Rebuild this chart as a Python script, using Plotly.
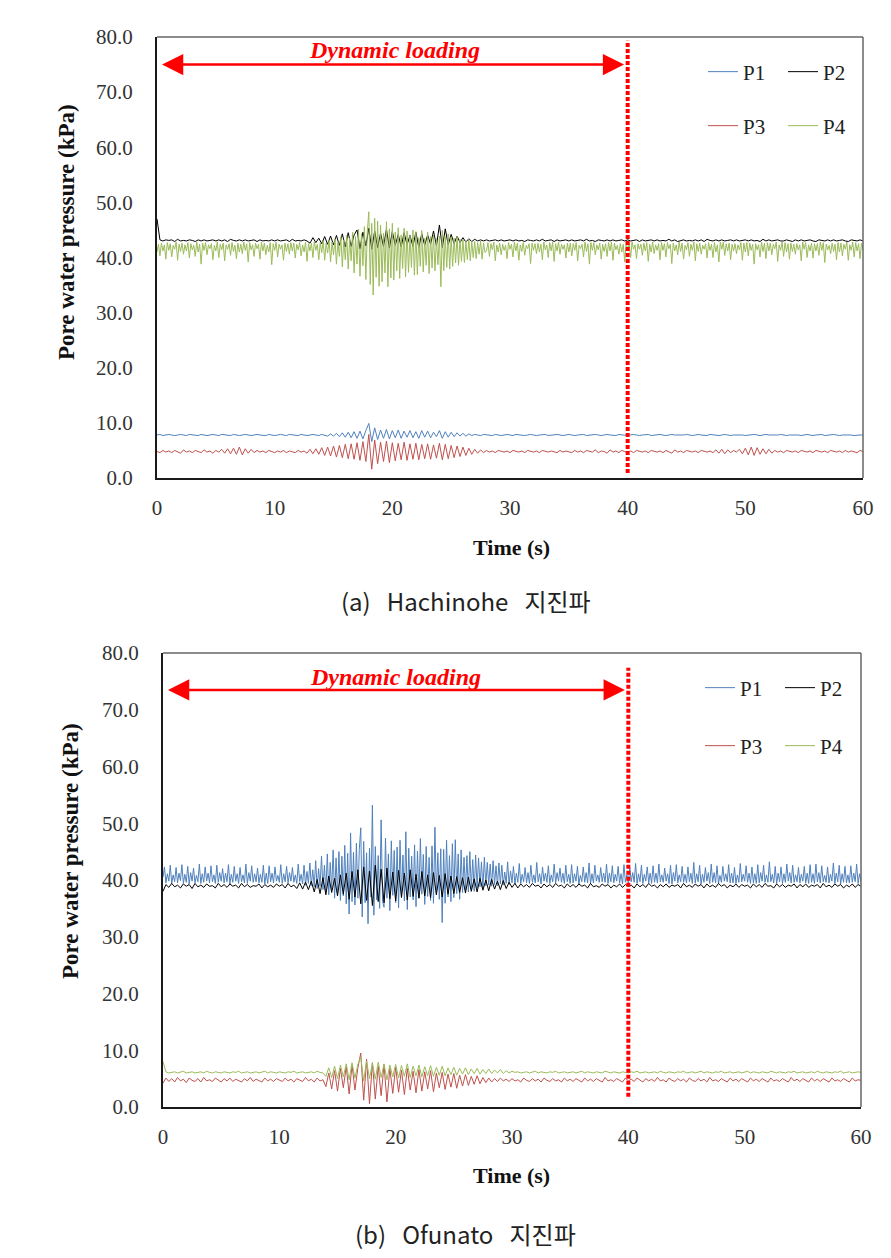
import plotly.graph_objects as go

# ---------------- data ----------------
# coarse grid (0.25 s) and fine grid (0.125 s) sample times
COARSE_STEP = 0.25
FINE_STEP = 0.125
time_coarse = [round(i * COARSE_STEP, 3) for i in range(241)]
time_fine = [round(i * FINE_STEP, 3) for i in range(481)]

# (a) Hachinohe
a_P1 = [
    7.8, 7.9, 7.7, 7.8, 7.9, 7.8, 7.7, 7.8, 7.9, 7.8, 7.7, 7.9, 7.8, 7.8, 7.7, 7.9, 7.8, 7.7, 7.8, 7.9,
    7.8, 7.7, 7.9, 7.8, 7.8, 7.7, 7.9, 7.8, 7.7, 7.8, 7.9, 7.8, 7.7, 7.8, 7.9, 7.8, 7.8, 7.7, 7.9, 7.8,
    7.7, 7.8, 7.9, 7.8, 7.7, 7.9, 7.8, 7.8, 7.7, 7.9, 7.8, 7.7, 7.8, 7.9, 7.8, 7.7, 7.9, 7.8, 7.6, 8.0,
    7.6, 8.1, 7.5, 8.2, 7.4, 8.3, 7.3, 8.4, 7.2, 8.5, 7.1, 8.6, 9.9, 6.6, 9.1, 7.0, 8.7, 7.2, 8.8, 7.1,
    8.6, 7.3, 8.7, 7.2, 8.5, 7.4, 8.6, 7.3, 8.4, 7.2, 8.6, 7.4, 8.5, 7.3, 8.3, 7.5, 8.6, 7.2, 8.4, 7.4,
    8.3, 7.5, 8.2, 7.6, 8.1, 7.6, 8.0, 7.7, 7.9, 7.8, 7.7, 7.9, 7.8, 7.8, 7.7, 7.9, 7.8, 7.7, 7.8, 7.9,
    7.8, 7.7, 7.9, 7.8, 7.8, 7.7, 7.8, 7.9, 7.8, 7.7, 7.8, 7.8, 7.9, 7.7, 7.8, 7.8, 7.9, 7.8, 7.7, 7.8,
    7.9, 7.8, 7.7, 7.8, 7.8, 7.9, 7.7, 7.8, 7.8, 7.9, 7.8, 7.7, 7.8, 7.9, 7.8, 7.8, 7.7, 7.9, 7.8, 7.8,
    7.7, 7.8, 7.9, 7.8, 7.7, 7.8, 7.8, 7.9, 7.7, 7.8, 7.8, 7.9, 7.8, 7.7, 7.8, 7.9, 7.8, 7.8, 7.7, 7.8,
    7.9, 7.8, 7.7, 7.8, 7.9, 7.8, 7.8, 7.7, 7.9, 7.8, 7.8, 7.7, 7.8, 7.9, 7.8, 7.7, 7.8, 7.8, 7.9, 7.8,
    7.7, 7.8, 7.8, 7.9, 7.8, 7.7, 7.8, 7.9, 7.8, 7.8, 7.7, 7.8, 7.9, 7.8, 7.7, 7.8, 7.8, 7.9, 7.8, 7.7,
    7.8, 7.9, 7.8, 7.7, 7.8, 7.8, 7.9, 7.7, 7.8, 7.8, 7.9, 7.8, 7.7, 7.8, 7.8, 7.9, 7.8, 7.7, 7.8, 7.8,
    7.8,
]
a_P2 = [
    47.0, 43.2, 43.0, 43.2, 43.1, 43.2, 42.9, 43.3, 43.0, 43.1, 43.0, 43.2, 43.1, 42.9, 43.2, 43.0, 43.2, 43.0, 43.1, 43.2,
    43.0, 43.2, 43.0, 43.2, 42.9, 43.3, 43.1, 43.0, 43.2, 43.0, 43.2, 43.0, 43.1, 43.2, 42.9, 43.2, 43.0, 43.1, 43.0, 43.2,
    43.0, 43.2, 43.0, 43.1, 43.2, 42.9, 43.3, 43.0, 43.1, 43.0, 43.2, 43.0, 42.6, 43.6, 42.7, 43.5, 42.5, 43.8, 42.4, 43.9,
    42.3, 44.0, 42.2, 44.3, 41.9, 44.5, 42.0, 44.1, 45.0, 41.6, 44.6, 42.1, 45.3, 41.5, 44.8, 41.8, 44.4, 42.0, 45.1, 41.7,
    44.7, 42.2, 44.2, 41.9, 44.5, 42.3, 44.0, 42.0, 44.6, 41.8, 44.3, 42.2, 44.1, 42.4, 44.8, 42.1, 45.9, 41.8, 45.2, 42.3,
    44.2, 42.5, 43.9, 42.7, 43.6, 42.8, 43.4, 42.9, 43.3, 43.0, 43.2, 43.0, 43.2, 43.0, 43.1, 43.2, 43.0, 43.2, 43.0, 43.1,
    43.2, 43.0, 43.2, 43.0, 43.1, 42.9, 43.2, 43.1, 43.0, 43.2, 43.0, 43.3, 43.0, 43.1, 43.2, 42.9, 43.2, 43.0, 43.1, 43.2,
    43.0, 43.2, 43.0, 43.1, 43.2, 43.0, 43.3, 43.0, 43.1, 42.9, 43.2, 43.1, 43.0, 43.2, 43.0, 43.2, 43.0, 43.1, 43.2, 43.0,
    43.2, 43.0, 43.1, 43.2, 42.9, 43.2, 43.0, 43.1, 43.2, 43.0, 43.2, 43.0, 43.1, 43.0, 43.3, 43.0, 43.2, 42.9, 43.1, 43.2,
    43.0, 43.1, 43.0, 43.2, 43.0, 43.2, 42.9, 43.3, 43.1, 43.0, 43.2, 43.0, 43.2, 43.0, 43.1, 43.2, 43.0, 43.2, 43.0, 43.1,
    43.2, 43.0, 43.2, 43.0, 43.1, 42.9, 43.3, 43.0, 43.2, 43.0, 43.1, 43.2, 43.0, 43.0, 43.2, 43.1, 42.9, 43.2, 43.0, 43.2,
    43.0, 43.1, 43.2, 43.0, 42.9, 43.2, 43.1, 43.0, 43.2, 43.0, 43.2, 43.0, 43.1, 43.2, 43.0, 42.9, 43.2, 43.1, 43.0, 43.2,
    43.0,
]
a_P3 = [
    4.8, 4.6, 5.0, 4.7, 4.9, 4.6, 5.0, 4.8, 4.5, 5.1, 4.7, 4.9, 4.6, 5.0, 4.8, 4.6, 5.1, 4.7, 4.9, 4.5,
    5.0, 4.7, 5.2, 4.5, 5.3, 4.4, 5.4, 4.3, 5.6, 4.2, 5.3, 4.5, 5.2, 4.6, 5.0, 4.7, 4.9, 4.6, 5.0, 4.8,
    4.6, 4.9, 4.7, 5.0, 4.6, 4.9, 4.8, 4.6, 5.0, 4.7, 4.9, 4.5, 5.2, 4.4, 5.3, 4.3, 5.5, 4.1, 5.6, 4.0,
    5.8, 3.8, 5.9, 3.7, 6.1, 3.5, 6.2, 3.4, 6.4, 3.2, 6.6, 3.0, 7.9, 1.6, 6.9, 2.6, 6.5, 3.0, 6.7, 2.8,
    6.4, 3.1, 6.3, 3.3, 6.5, 3.2, 6.2, 3.4, 6.3, 3.3, 6.1, 3.5, 6.2, 3.4, 6.0, 3.6, 6.3, 3.3, 6.1, 3.5,
    5.9, 3.7, 5.8, 3.9, 5.6, 4.1, 5.4, 4.3, 5.2, 4.5, 5.1, 4.6, 5.0, 4.7, 4.9, 4.6, 5.0, 4.8, 4.7, 4.9,
    4.6, 5.0, 4.8, 4.7, 4.9, 4.6, 5.0, 4.8, 4.7, 4.9, 4.6, 5.0, 4.8, 4.7, 4.9, 4.8, 4.6, 5.0, 4.7, 4.9,
    4.8, 4.6, 5.0, 4.7, 4.9, 4.6, 5.0, 4.8, 4.7, 5.1, 4.6, 4.9, 4.8, 4.5, 5.1, 4.7, 4.9, 4.6, 5.0, 4.8,
    4.7, 4.9, 4.6, 5.0, 4.8, 4.7, 4.9, 4.6, 5.0, 4.8, 4.7, 4.9, 4.6, 5.0, 4.8, 4.5, 5.1, 4.7, 4.9, 4.6,
    5.0, 4.8, 4.7, 4.9, 4.6, 5.0, 4.8, 4.7, 4.9, 4.6, 5.1, 4.5, 5.2, 4.4, 5.1, 4.6, 5.0, 4.7, 5.2, 4.4,
    5.4, 4.2, 5.6, 4.1, 5.5, 4.3, 5.3, 4.4, 5.2, 4.5, 5.0, 4.7, 4.9, 4.6, 5.0, 4.8, 4.7, 4.9, 4.6, 5.0,
    4.8, 4.7, 4.9, 4.6, 5.0, 4.8, 4.7, 4.9, 4.6, 5.0, 4.8, 4.7, 4.9, 4.6, 5.0, 4.7, 4.9, 4.8, 4.6, 5.0,
    4.8,
]
# fine grid, one line per second
a_P4 = [
    41.0, 42.4, 40.3, 42.6, 41.2, 42.3, 39.7, 42.7,
    41.3, 42.5, 40.1, 42.2, 41.5, 42.8, 39.5, 42.4,
    41.1, 42.6, 40.6, 42.3, 41.2, 42.7, 39.9, 42.5,
    41.4, 42.2, 40.2, 42.8, 41.0, 42.4, 38.8, 42.6,
    41.3, 42.7, 40.5, 42.3, 41.6, 42.5, 39.6, 42.2,
    41.2, 42.8, 40.0, 42.4, 41.4, 42.6, 39.4, 42.3,
    41.5, 42.5, 40.4, 42.7, 41.1, 42.2, 39.8, 42.6,
    41.0, 42.4, 40.7, 42.8, 41.3, 42.5, 39.2, 42.7,
    41.4, 42.3, 40.2, 42.6, 41.6, 42.4, 39.7, 42.8,
    41.2, 42.6, 40.5, 42.2, 41.0, 42.7, 38.7, 42.5,
    41.3, 42.8, 40.1, 42.4, 41.5, 42.3, 39.5, 42.6,
    41.1, 42.5, 40.6, 42.7, 41.2, 42.6, 39.9, 42.4,
    41.4, 42.7, 40.3, 42.3, 41.0, 42.8, 39.3, 42.5,
    41.2, 42.6, 40.0, 42.9, 41.3, 42.4, 39.6, 42.7,
    40.9, 43.0, 39.5, 42.6, 40.8, 43.1, 39.2, 42.8,
    40.5, 43.4, 38.8, 42.9, 40.2, 43.8, 38.3, 43.2,
    39.6, 44.0, 37.9, 43.5, 39.4, 44.6, 37.2, 43.8,
    38.8, 45.1, 36.6, 44.3, 38.5, 45.6, 36.0, 44.8,
    48.3, 35.1, 46.2, 33.2, 47.1, 36.4, 46.6, 34.8,
    45.9, 35.6, 44.4, 37.2, 46.5, 34.7, 45.2, 36.3,
    46.2, 35.9, 44.6, 37.6, 45.4, 36.2, 44.1, 38.0,
    45.3, 36.5, 44.8, 37.3, 43.9, 38.2, 45.0, 36.8,
    44.7, 36.9, 43.6, 38.4, 44.9, 37.4, 43.5, 38.6,
    44.6, 37.1, 43.8, 38.1, 44.2, 37.6, 43.4, 38.7,
    43.9, 34.7, 44.9, 37.6, 43.8, 38.2, 44.3, 37.9,
    43.7, 38.4, 43.5, 39.0, 43.9, 38.6, 43.3, 39.3,
    43.2, 39.1, 43.0, 39.6, 43.3, 39.4, 42.9, 40.0,
    42.9, 39.8, 42.7, 40.6, 43.0, 39.7, 42.6, 40.9,
    41.2, 42.7, 40.2, 42.5, 41.4, 42.8, 39.4, 42.3,
    41.0, 42.6, 40.5, 42.4, 41.3, 42.2, 39.8, 42.7,
    41.5, 42.4, 40.1, 42.8, 41.2, 42.6, 39.5, 42.3,
    41.1, 42.7, 40.4, 42.2, 41.6, 42.5, 38.9, 42.6,
    41.3, 42.5, 40.7, 42.6, 41.0, 42.4, 39.6, 42.8,
    41.4, 42.3, 40.0, 42.7, 41.2, 42.8, 39.3, 42.5,
    41.2, 42.8, 40.6, 42.4, 41.5, 42.3, 39.9, 42.6,
    41.0, 42.6, 40.3, 42.5, 41.3, 42.7, 39.4, 42.2,
    41.6, 42.4, 40.1, 42.8, 41.1, 42.5, 38.8, 42.7,
    41.3, 42.7, 40.5, 42.3, 41.4, 42.6, 39.7, 42.4,
    41.1, 42.5, 40.2, 42.7, 41.2, 42.8, 39.5, 42.6,
    41.4, 42.2, 40.6, 42.5, 41.0, 42.4, 39.2, 42.8,
    41.2, 42.6, 40.0, 42.8, 41.5, 42.3, 39.8, 42.5,
    41.5, 42.4, 40.4, 42.6, 41.2, 42.7, 39.3, 42.4,
    41.0, 42.8, 40.7, 42.3, 41.3, 42.5, 39.6, 42.7,
    41.3, 42.5, 40.1, 42.7, 41.6, 42.4, 38.9, 42.6,
    41.2, 42.3, 40.5, 42.8, 41.1, 42.6, 39.7, 42.2,
    41.4, 42.7, 40.2, 42.4, 41.3, 42.8, 39.4, 42.5,
    41.1, 42.6, 40.6, 42.2, 41.5, 42.5, 39.9, 42.7,
    41.3, 42.4, 40.0, 42.7, 41.0, 42.3, 39.2, 42.8,
    41.5, 42.8, 40.4, 42.5, 41.2, 42.6, 39.6, 42.4,
    41.2, 42.5, 40.7, 42.3, 41.4, 42.7, 39.5, 42.6,
    41.0, 42.7, 40.3, 42.6, 41.3, 42.4, 38.8, 42.5,
    41.4, 42.3, 40.1, 42.8, 41.1, 42.6, 39.8, 42.7,
    41.2, 42.6, 40.5, 42.4, 41.6, 42.8, 39.3, 42.3,
    41.3, 42.8, 40.2, 42.7, 41.0, 42.5, 39.7, 42.6,
    41.1, 42.4, 40.6, 42.5, 41.4, 42.3, 39.4, 42.8,
    41.5, 42.7, 40.0, 42.3, 41.2, 42.6, 39.9, 42.5,
    41.2, 42.5, 40.4, 42.8, 41.3, 42.7, 39.1, 42.4,
    41.4, 42.2, 40.7, 42.6, 41.1, 42.4, 39.6, 42.7,
    41.0, 42.6, 40.3, 42.4, 41.5, 42.8, 39.5, 42.3,
    41.3, 42.8, 40.1, 42.7, 41.2, 42.5, 39.8, 42.6,
    41.4,
]

# (b) Ofunato
# fine grid, one line per second
b_P1 = [
    40.5, 42.3, 39.5, 41.1, 39.8, 42.6, 39.4, 40.9,
    39.7, 42.2, 39.5, 41.2, 39.9, 42.7, 39.4, 41.0,
    39.6, 42.4, 39.3, 41.3, 39.8, 42.1, 39.5, 40.8,
    39.7, 42.8, 39.4, 41.1, 39.6, 42.3, 39.8, 41.2,
    39.5, 42.5, 39.7, 40.9, 39.4, 42.6, 39.6, 41.3,
    39.8, 42.0, 39.5, 41.2, 39.7, 42.7, 39.3, 41.0,
    39.6, 42.4, 39.8, 41.1, 39.4, 42.2, 39.7, 40.9,
    39.5, 42.8, 39.4, 41.3, 39.8, 42.5, 39.6, 41.1,
    39.7, 42.1, 39.5, 41.0, 39.6, 42.6, 39.3, 41.2,
    39.4, 42.5, 39.7, 41.2, 39.5, 42.3, 39.8, 40.8,
    39.6, 42.7, 39.4, 41.1, 39.7, 42.4, 39.5, 41.3,
    39.8, 42.2, 39.6, 40.9, 39.4, 42.8, 39.7, 41.0,
    39.3, 42.6, 39.1, 41.5, 39.4, 43.0, 39.0, 41.8,
    38.8, 43.4, 38.5, 42.0, 38.9, 44.2, 38.3, 42.6,
    38.0, 44.6, 37.4, 43.1, 38.2, 45.3, 36.8, 43.9,
    37.5, 45.0, 36.4, 44.2, 37.2, 46.1, 35.8, 44.7,
    34.0, 48.3, 36.2, 44.9, 35.6, 46.5, 36.8, 45.4,
    49.2, 33.5, 46.8, 36.0, 44.8, 32.3, 45.6, 37.0,
    53.2, 33.8, 45.9, 36.5, 44.3, 35.0, 50.6, 36.2,
    35.2, 47.4, 36.8, 44.6, 34.6, 46.9, 37.3, 45.2,
    36.0, 45.8, 35.1, 47.0, 37.2, 44.4, 36.3, 48.5,
    34.8, 45.6, 37.0, 44.2, 36.5, 46.2, 35.3, 45.1,
    36.8, 47.3, 37.5, 44.5, 35.7, 45.9, 37.1, 44.0,
    36.4, 46.0, 35.9, 49.3, 37.4, 44.8, 36.6, 45.5,
    32.5, 45.4, 35.9, 47.0, 37.0, 44.3, 36.2, 46.4,
    36.9, 47.1, 37.6, 44.6, 36.6, 45.3, 37.8, 44.0,
    38.2, 44.3, 37.9, 45.0, 38.4, 43.6, 38.0, 44.4,
    38.6, 43.9, 38.8, 43.2, 38.5, 44.0, 39.0, 43.1,
    39.1, 42.8, 38.9, 43.4, 39.2, 42.5, 39.0, 43.0,
    39.3, 42.6, 39.1, 41.4, 39.4, 43.2, 39.2, 41.6,
    39.5, 42.4, 39.3, 41.2, 39.6, 42.9, 39.4, 41.0,
    39.7, 42.2, 39.5, 41.3, 39.4, 42.6, 39.6, 40.9,
    39.5, 43.1, 39.7, 41.1, 39.3, 42.3, 39.8, 41.2,
    39.6, 42.5, 39.4, 40.9, 39.7, 42.8, 39.5, 41.3,
    39.8, 42.1, 39.6, 41.2, 39.4, 42.6, 39.7, 41.0,
    39.4, 42.7, 39.5, 41.1, 39.8, 42.4, 39.3, 40.8,
    39.7, 42.3, 39.6, 41.3, 39.5, 43.0, 39.4, 41.1,
    39.5, 42.6, 39.8, 40.9, 39.6, 42.2, 39.7, 41.2,
    39.6, 42.8, 39.4, 41.2, 39.7, 42.5, 39.5, 41.0,
    39.8, 42.4, 39.5, 41.1, 39.3, 42.7, 39.6, 40.9,
    39.5, 42.2, 39.7, 41.3, 39.6, 42.9, 39.4, 41.1,
    39.7, 42.6, 39.4, 41.0, 39.8, 42.3, 39.5, 41.2,
    39.4, 42.5, 39.6, 41.2, 39.5, 42.8, 39.7, 40.9,
    39.6, 42.1, 39.8, 41.1, 39.4, 42.6, 39.3, 41.3,
    39.8, 42.7, 39.5, 40.9, 39.7, 42.4, 39.6, 41.0,
    39.5, 42.3, 39.7, 41.2, 39.4, 43.1, 39.5, 41.1,
    39.7, 42.6, 39.3, 41.0, 39.6, 42.2, 39.8, 41.3,
    39.4, 42.8, 39.6, 41.3, 39.5, 42.5, 39.4, 40.8,
    39.6, 42.4, 39.8, 41.1, 39.7, 42.7, 39.5, 41.2,
    39.5, 42.2, 39.4, 40.9, 39.6, 42.9, 39.7, 41.0,
    39.8, 42.5, 39.6, 41.2, 39.4, 42.3, 39.5, 41.1,
    39.4, 42.7, 39.5, 41.3, 39.8, 42.6, 39.6, 40.9,
    39.6, 43.2, 39.7, 41.0, 39.5, 42.4, 39.4, 41.2,
    39.7, 42.3, 39.4, 41.1, 39.6, 42.8, 39.8, 41.3,
    39.5, 42.6, 39.6, 40.9, 39.7, 42.2, 39.5, 41.0,
    39.8, 42.4, 39.5, 41.2, 39.4, 42.7, 39.6, 41.1,
    39.4, 42.8, 39.7, 41.3, 39.5, 42.5, 39.7, 40.8,
    39.6, 42.3, 39.5, 41.0, 39.8, 43.0, 39.4, 41.2,
    39.7, 42.6, 39.3, 41.1, 39.6, 42.4, 39.5, 40.9,
    39.5, 42.5, 39.6, 41.2, 39.7, 42.8, 39.4, 41.1,
    39.6,
]
b_P2 = [
    38.0, 39.2, 38.7, 39.4, 38.8, 39.1, 38.6, 39.3, 38.9, 39.2, 38.5, 39.4, 38.8, 39.1, 38.7, 39.3, 38.9, 39.0, 38.6, 39.4,
    38.8, 39.2, 38.7, 39.3, 38.9, 39.1, 38.6, 39.4, 38.8, 39.2, 38.7, 39.0, 38.9, 39.3, 38.6, 39.2, 38.8, 39.1, 38.7, 39.3,
    38.9, 39.2, 38.6, 39.4, 38.8, 39.1, 38.5, 39.5, 38.4, 39.6, 38.3, 39.8, 37.9, 40.1, 37.6, 40.4, 37.4, 40.7, 37.8, 40.3,
    37.2, 40.9, 37.5, 41.2, 36.6, 41.5, 37.0, 41.8, 35.8, 42.3, 36.4, 41.6, 35.5, 42.6, 36.2, 41.9, 36.0, 42.1, 36.7, 41.4,
    36.3, 41.7, 36.9, 41.2, 36.5, 41.8, 37.1, 41.0, 36.8, 41.5, 37.2, 40.9, 36.9, 41.3, 37.4, 40.8, 37.0, 41.1, 37.5, 40.7,
    37.6, 40.6, 37.8, 40.4, 37.7, 40.5, 38.0, 40.2, 37.9, 40.3, 38.2, 40.0, 38.1, 40.1, 38.4, 39.8, 38.3, 39.9, 38.5, 39.6,
    38.7, 39.4, 38.6, 39.3, 38.8, 39.2, 38.7, 39.4, 38.9, 39.1, 38.6, 39.3, 38.8, 39.2, 38.7, 39.4, 38.9, 39.1, 38.6, 39.3,
    38.8, 39.2, 38.7, 39.3, 38.9, 39.1, 38.6, 39.4, 38.8, 39.0, 38.7, 39.3, 38.9, 39.2, 38.6, 39.1, 38.8, 39.3, 38.7, 39.2,
    38.9, 39.1, 38.6, 39.3, 38.8, 39.2, 38.7, 39.4, 38.9, 39.1, 38.6, 39.2, 38.8, 39.3, 38.7, 39.1, 38.9, 39.2, 38.6, 39.4,
    38.8, 39.1, 38.7, 39.3, 38.9, 39.2, 38.6, 39.3, 38.8, 39.1, 38.7, 39.4, 38.9, 39.2, 38.6, 39.1, 38.8, 39.3, 38.7, 39.2,
    38.9, 39.1, 38.6, 39.3, 38.8, 39.2, 38.7, 39.4, 38.9, 39.0, 38.6, 39.3, 38.8, 39.2, 38.7, 39.1, 38.9, 39.3, 38.6, 39.2,
    38.8, 39.3, 38.7, 39.1, 38.9, 39.2, 38.6, 39.4, 38.8, 39.1, 38.7, 39.3, 38.9, 39.2, 38.6, 39.1, 38.8, 39.3, 38.7, 39.2,
    38.9,
]
b_P3 = [
    4.2, 5.1, 4.5, 5.0, 4.4, 5.2, 4.6, 4.9, 4.3, 5.1, 4.7, 4.5, 5.0, 4.4, 5.2, 4.6, 4.8, 4.5, 5.1, 4.7,
    4.4, 5.0, 4.6, 5.1, 4.5, 4.9, 4.7, 4.4, 5.0, 4.6, 5.2, 4.5, 4.9, 4.7, 4.4, 5.1, 4.6, 4.9, 4.5, 5.0,
    4.7, 4.5, 5.1, 4.6, 4.9, 4.4, 5.0, 4.7, 4.5, 5.2, 4.6, 4.9, 4.4, 5.1, 4.6, 4.8, 3.6, 6.0, 3.2, 6.4,
    2.8, 6.8, 3.4, 7.1, 2.3, 7.4, 3.0, 6.9, 9.5, 1.2, 8.4, 0.6, 7.8, 1.4, 7.2, 2.0, 7.5, 0.9, 6.8, 2.4,
    7.0, 2.6, 6.5, 2.2, 6.8, 3.0, 6.3, 2.5, 6.6, 2.8, 6.2, 3.2, 6.4, 2.7, 6.0, 3.4, 6.1, 3.1, 5.8, 3.5,
    5.9, 3.3, 5.6, 3.7, 5.7, 3.8, 5.4, 4.0, 5.5, 4.1, 5.2, 4.3, 5.1, 4.4, 5.0, 4.5, 5.1, 4.6, 4.9, 4.5,
    5.0, 4.6, 4.8, 4.4, 5.1, 4.7, 4.5, 5.0, 4.6, 4.9, 4.4, 5.1, 4.7, 4.5, 5.0, 4.6, 4.8, 4.4, 5.1, 4.6,
    4.9, 4.5, 5.0, 4.7, 4.4, 5.1, 4.6, 4.9, 4.5, 5.0, 4.7, 4.4, 5.2, 4.6, 4.8, 4.5, 5.0, 4.7, 4.4, 5.1,
    4.6, 4.9, 4.5, 5.1, 4.7, 4.4, 5.0, 4.6, 4.9, 4.5, 5.2, 4.6, 4.8, 4.4, 5.1, 4.7, 4.5, 5.0, 4.6, 4.9,
    4.4, 5.1, 4.7, 4.5, 5.0, 4.6, 4.9, 4.4, 5.2, 4.6, 4.8, 4.5, 5.0, 4.7, 4.4, 5.1, 4.6, 4.9, 4.5, 5.0,
    4.7, 4.4, 5.1, 4.6, 4.9, 4.5, 5.0, 4.7, 4.4, 5.1, 4.6, 4.8, 4.5, 5.0, 4.7, 4.4, 5.2, 4.6, 4.9, 4.5,
    5.0, 4.7, 4.4, 5.1, 4.6, 4.9, 4.5, 5.0, 4.7, 4.4, 5.1, 4.6, 4.8, 4.5, 5.0, 4.7, 4.4, 5.1, 4.6, 4.8,
    4.7,
]
b_P4 = [
    8.0, 6.2, 6.0, 6.1, 6.2, 6.0, 6.1, 6.3, 6.0, 6.1, 6.2, 6.0, 6.1, 6.2, 6.0, 6.3, 6.1, 6.0, 6.2, 6.1,
    6.0, 6.2, 6.1, 6.0, 6.2, 6.1, 6.3, 6.0, 6.1, 6.2, 6.0, 6.1, 6.2, 6.0, 6.1, 6.3, 6.0, 6.2, 6.1, 6.0,
    6.2, 6.1, 6.0, 6.2, 6.1, 6.3, 6.0, 6.1, 6.2, 6.0, 6.1, 6.2, 6.0, 6.3, 6.1, 6.0, 5.4, 6.9, 5.2, 7.2,
    5.0, 7.4, 5.3, 7.6, 4.8, 7.8, 5.1, 7.5, 8.8, 4.6, 8.1, 5.0, 7.7, 4.9, 7.9, 5.2, 7.6, 4.8, 7.4, 5.3,
    7.5, 5.1, 7.3, 5.4, 7.6, 5.2, 7.2, 5.5, 7.4, 5.3, 7.1, 5.5, 7.3, 5.4, 7.0, 5.6, 7.2, 5.5, 6.9, 5.7,
    7.0, 5.6, 6.8, 5.8, 6.9, 5.7, 6.7, 5.9, 6.8, 5.8, 6.6, 5.9, 6.7, 5.9, 6.5, 6.0, 6.6, 5.9, 6.4, 6.0,
    6.3, 6.1, 6.2, 6.0, 6.1, 6.2, 6.0, 6.1, 6.3, 6.0, 6.2, 6.1, 6.0, 6.2, 6.1, 6.3, 6.0, 6.1, 6.2, 6.0,
    6.1, 6.2, 6.0, 6.1, 6.3, 6.0, 6.2, 6.1, 6.0, 6.2, 6.1, 6.0, 6.3, 6.1, 6.0, 6.2, 6.1, 6.0, 6.2, 6.1,
    6.0, 6.2, 6.1, 6.3, 6.0, 6.1, 6.2, 6.0, 6.1, 6.2, 6.0, 6.3, 6.1, 6.0, 6.2, 6.1, 6.0, 6.2, 6.1, 6.3,
    6.0, 6.1, 6.2, 6.0, 6.1, 6.3, 6.0, 6.2, 6.1, 6.0, 6.2, 6.1, 6.3, 6.0, 6.1, 6.2, 6.0, 6.1, 6.2, 6.0,
    6.1, 6.3, 6.0, 6.2, 6.1, 6.0, 6.2, 6.1, 6.0, 6.3, 6.1, 6.0, 6.2, 6.1, 6.0, 6.2, 6.1, 6.3, 6.0, 6.1,
    6.2, 6.0, 6.1, 6.2, 6.0, 6.3, 6.1, 6.0, 6.2, 6.1, 6.0, 6.2, 6.1, 6.3, 6.0, 6.1, 6.2, 6.0, 6.1, 6.2,
    6.1,
]

series_names = ["P1", "P2", "P3", "P4"]
x_ticks = [0, 10, 20, 30, 40, 50, 60]
y_ticks = [0, 10, 20, 30, 40, 50, 60, 70, 80]
y_tick_text = ["0.0", "10.0", "20.0", "30.0", "40.0", "50.0", "60.0", "70.0", "80.0"]
loading_end_s = 40
captions = ["(a)   Hachinohe   지진파", "(b)   Ofunato   지진파"]

# ---------------- style ----------------
W, H = 891, 1258
COLORS = {"P1": "#4f81bd", "P2": "#000000", "P3": "#c0504d", "P4": "#9bbb59"}
SERIF = "Liberation Serif"
RED = "#ff0000"

def px(xp):
    return xp / W

def py(yp):
    return 1 - yp / H

panels = [
    dict(data=[(time_coarse, a_P1), (time_coarse, a_P2), (time_coarse, a_P3), (time_fine, a_P4)],
         dom_x=[px(157), px(863)], dom_y=[py(478), py(37)],
         arrow_y=75.0, text_y=77.6, text_x=20.2, vline_top=79.3, vline_bot=0.9,
         leg_rows=[py(72), py(126)], leg_x=px(703), ytitle_xy=(67, 232), xtitle_y=547,
         caption_y=600),
    dict(data=[(time_fine, b_P1), (time_coarse, b_P2), (time_coarse, b_P3), (time_coarse, b_P4)],
         dom_x=[px(163), px(861)], dom_y=[py(1107), py(653)],
         arrow_y=73.5, text_y=75.8, text_x=20.0, vline_top=77.4, vline_bot=1.8,
         leg_rows=[py(688), py(746)], leg_x=px(700), ytitle_xy=(70, 851), xtitle_y=1175,
         caption_y=1233),
]

fig = go.Figure()
layout = dict(width=W, height=H, margin=dict(l=0, r=0, t=0, b=0, autoexpand=False), autosize=False,
              paper_bgcolor="white", plot_bgcolor="white", showlegend=True)
shapes, annotations = [], []

for k, p in enumerate(panels):
    xa = "x" if k == 0 else "x2"
    ya = "y" if k == 0 else "y2"
    xkey = "xaxis" if k == 0 else "xaxis2"
    ykey = "yaxis" if k == 0 else "yaxis2"
    for j, (name, (tt, vals)) in enumerate(zip(series_names, p["data"])):
        leg = ["legend", "legend2", "legend3", "legend4"][2 * k + (j // 2)]
        fig.add_trace(go.Scatter(x=tt, y=vals, mode="lines", name=name,
                                 line=dict(color=COLORS[name], width=1),
                                 xaxis=xa, yaxis=ya, legend=leg))
    layout[xkey] = dict(domain=p["dom_x"], range=[0, 60], anchor=ya, tickvals=x_ticks,
                        showgrid=False, zeroline=False, showline=True, linecolor="#1a1a1a",
                        linewidth=2, ticks="", ticklabelstandoff=10,
                        tickfont=dict(family=SERIF, size=21, color="#333333"))
    layout[ykey] = dict(domain=p["dom_y"], range=[0, 80], anchor=xa, tickvals=y_ticks,
                        ticktext=y_tick_text, showgrid=False, zeroline=False, showline=True,
                        linecolor="#1a1a1a", linewidth=2, ticks="", ticklabelstandoff=18,
                        tickfont=dict(family=SERIF, size=21, color="#333333"))
    xd, yd = p["dom_x"], p["dom_y"]
    shapes.append(dict(type="line", xref="paper", yref="paper", x0=xd[0], x1=xd[1], y0=yd[1], y1=yd[1],
                       line=dict(color="#666666", width=1.5)))
    shapes.append(dict(type="line", xref="paper", yref="paper", x0=xd[1], x1=xd[1], y0=yd[0], y1=yd[1],
                       line=dict(color="#666666", width=1.5)))
    shapes.append(dict(type="line", xref=xa, yref=ya, x0=loading_end_s, x1=loading_end_s,
                       y0=p["vline_bot"], y1=p["vline_top"],
                       line=dict(color=RED, width=4, dash="4px,2px")))
    annotations.append(dict(xref=xa, yref=ya, axref=xa, ayref=ya, x=loading_end_s - 0.3, y=p["arrow_y"],
                            ax=0.3, ay=p["arrow_y"], text="", showarrow=True, arrowhead=2,
                            startarrowhead=2, arrowside="end+start", arrowsize=1.7,
                            startarrowsize=1.7, arrowwidth=2.5, arrowcolor=RED))
    annotations.append(dict(xref=xa, yref=ya, x=p["text_x"], y=p["text_y"], showarrow=False,
                            xanchor="center", yanchor="middle",
                            text="<b><i>Dynamic loading</i></b>",
                            font=dict(family=SERIF, size=24, color=RED)))
    tx, ty = p["ytitle_xy"]
    annotations.append(dict(xref="paper", yref="paper", x=px(tx), y=py(ty), showarrow=False,
                            xanchor="center", yanchor="middle",
                            textangle=-90, text="<b>Pore water pressure (kPa)</b>",
                            font=dict(family=SERIF, size=23, color="#111111")))
    annotations.append(dict(xref="paper", yref="paper", x=px(511), y=py(p["xtitle_y"]), showarrow=False,
                            xanchor="center", yanchor="middle",
                            text="<b>Time (s)</b>", font=dict(family=SERIF, size=22, color="#111111")))
    annotations.append(dict(xref="paper", yref="paper", x=px(466), y=py(p["caption_y"]), showarrow=False,
                            xanchor="center", yanchor="middle",
                            text=captions[k],
                            font=dict(family="Noto Sans CJK KR", size=24, color="#222222")))
    for r in range(2):
        lkey = ["legend", "legend2", "legend3", "legend4"][2 * k + r]
        layout[lkey] = dict(x=p["leg_x"], y=p["leg_rows"][r], xanchor="left", yanchor="middle",
                            orientation="h", bgcolor="rgba(0,0,0,0)", borderwidth=0,
                            entrywidthmode="pixels", entrywidth=35,
                            font=dict(family=SERIF, size=21, color="#222222"),
                            itemclick=False, itemdoubleclick=False)

layout["shapes"] = shapes
layout["annotations"] = annotations
fig.update_layout(**layout)
fig.write_html("out.html")
